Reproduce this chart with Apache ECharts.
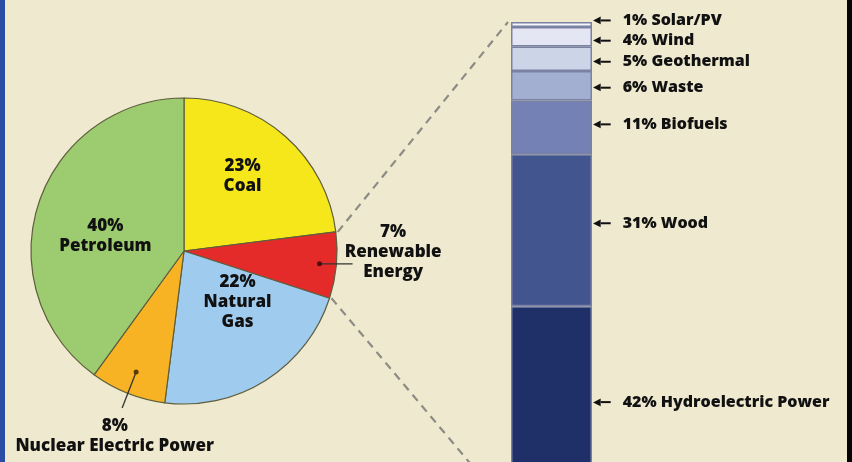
<!DOCTYPE html>
<html>
<head>
<meta charset="utf-8">
<script src="https://cdn.jsdelivr.net/npm/echarts@6/dist/echarts.min.js"></script>
<style>
html,body{margin:0;padding:0;background:#EEE9CF;}
#c{width:852px;height:462px;}
</style>
</head>
<body>
<div id="c"></div>
<script>
// ---- data ----
var pieNames = ['Coal', 'Renewable\nEnergy', 'Natural\nGas', 'Nuclear Electric Power', 'Petroleum'];
var pieValues = [23, 7, 22, 8, 40];
var barNames = ['Hydroelectric Power', 'Wood', 'Biofuels', 'Waste', 'Geothermal', 'Wind', 'Solar/PV'];
var barValues = [42, 31, 11, 6, 5, 4, 1];

// ---- styles ----
var pieColors = ['#F6E71A', '#E42B2A', '#9ECBEE', '#F8B325', '#9CCB70'];
var barColors = ['#1F2F68', '#43558F', '#7381B4', '#A3AFD0', '#CCD5E8', '#E4E6F3', '#F6F6FA'];
var pieLabelOffsets = [[6, -15], [130, -6], [11, -16], [-40, 111], [-3, 10]];
var barLabelOffsets = [[0, -7], [0, -7], [0, -3], [0, 2], [0, 3], [0, 4], [0, -4]];
var FONT = 'Open Sans';
var PIE_C = [184, 251], PIE_R = 153;

var chart = echarts.init(document.getElementById('c'));

var pieData = pieNames.map(function (n, i) {
  return {
    name: n, value: pieValues[i],
    itemStyle: { color: pieColors[i] },
    label: { offset: pieLabelOffsets[i] }
  };
});

var barSeries = barNames.map(function (n, i) {
  return {
    type: 'bar', stack: 'r', name: n, data: [barValues[i]],
    barWidth: '100%',
    itemStyle: { color: barColors[i], borderColor: '#7A82A4', borderWidth: 1.5 },
    label: {
      show: true, position: 'right', distance: 1, offset: barLabelOffsets[i],
      formatter: function (p) {
        return '{h|◀}{l| }{t|' + p.value + '% ' + p.seriesName + '}';
      },
      rich: {
        h: { fontSize: 10, color: '#111', fontFamily: 'DejaVu Sans' },
        l: { width: 10, height: 2, backgroundColor: '#111', fontSize: 2 },
        t: { fontFamily: FONT, fontWeight: 800, fontSize: 16, color: '#111', padding: [0, 0, 0, 12] }
      }
    },
    z: 3
  };
});

var option = {
  backgroundColor: '#EEE9CF',
  animation: false,
  grid: { left: 511, width: 81, top: 22, height: 490, outerBoundsMode: 'none', containLabel: false },
  xAxis: { type: 'category', data: ['r'], show: false },
  yAxis: { type: 'value', min: 0, max: 100, show: false },
  series: [{
    type: 'pie',
    center: PIE_C, radius: PIE_R,
    startAngle: 90, clockwise: true,
    data: pieData,
    itemStyle: { borderColor: '#5E5E3C', borderWidth: 1.2 },
    label: {
      show: true, position: 'inside',
      formatter: function (p) { return p.value + '%\n' + p.name; },
      fontFamily: FONT, fontWeight: 800, fontSize: 17, lineHeight: 20,
      color: '#111', align: 'center'
    },
    labelLine: { show: false },
    emphasis: { disabled: true }
  }].concat(barSeries)
};
chart.setOption(option);

// ---- connectors computed from data ----
function piePoint(frac, rr) {
  var a = frac * 2 * Math.PI;
  return [PIE_C[0] + rr * Math.sin(a), PIE_C[1] - rr * Math.cos(a)];
}
var total = pieValues.reduce(function (a, b) { return a + b; }, 0);
var cum = [];
var acc = 0;
pieValues.forEach(function (v) { cum.push(acc / total); acc += v; });
var renStart = cum[1], renEnd = cum[1] + pieValues[1] / total;
var renMid = (renStart + renEnd) / 2;
var nucMid = cum[3] + pieValues[3] / total / 2;

var topC = chart.convertToPixel({ xAxisIndex: 0, yAxisIndex: 0 }, [0, 100]);
var botC = chart.convertToPixel({ xAxisIndex: 0, yAxisIndex: 0 }, [0, 0]);
var barLeft = topC[0] - 81 / 2;

var p1 = piePoint(renStart, PIE_R), p2 = piePoint(renEnd, PIE_R);
var d1 = piePoint(renMid, PIE_R * 0.89);
var d2 = piePoint(nucMid, PIE_R * 0.85);
var dash = { stroke: '#8C8C84', lineWidth: 2.2, lineDash: [8, 6] };
var lead = { stroke: '#333', lineWidth: 1.3 };

chart.setOption({
  graphic: [
    { type: 'line', shape: { x1: p1[0] + 2, y1: p1[1], x2: barLeft - 3, y2: topC[1] }, style: dash, z: 1 },
    { type: 'line', shape: { x1: p2[0] + 2, y1: p2[1], x2: barLeft, y2: botC[1] }, style: dash, z: 1 },
    { type: 'line', shape: { x1: d1[0], y1: d1[1], x2: d1[0] + 33, y2: d1[1] }, style: lead, z: 10 },
    { type: 'circle', shape: { cx: d1[0], cy: d1[1], r: 2.5 }, style: { fill: '#4a1010' }, z: 10 },
    { type: 'line', shape: { x1: d2[0], y1: d2[1], x2: d2[0] - 14, y2: d2[1] + 36 }, style: lead, z: 10 },
    { type: 'circle', shape: { cx: d2[0], cy: d2[1], r: 2.5 }, style: { fill: '#5a3a00' }, z: 10 },
    { type: 'rect', shape: { x: 0, y: 0, width: 5, height: 462 }, style: { fill: '#2C4DA5' }, z: 20 },
    { type: 'rect', shape: { x: 847, y: 0, width: 5, height: 462 }, style: { fill: '#050505' }, z: 20 }
  ]
});
</script>
</body>
</html>
